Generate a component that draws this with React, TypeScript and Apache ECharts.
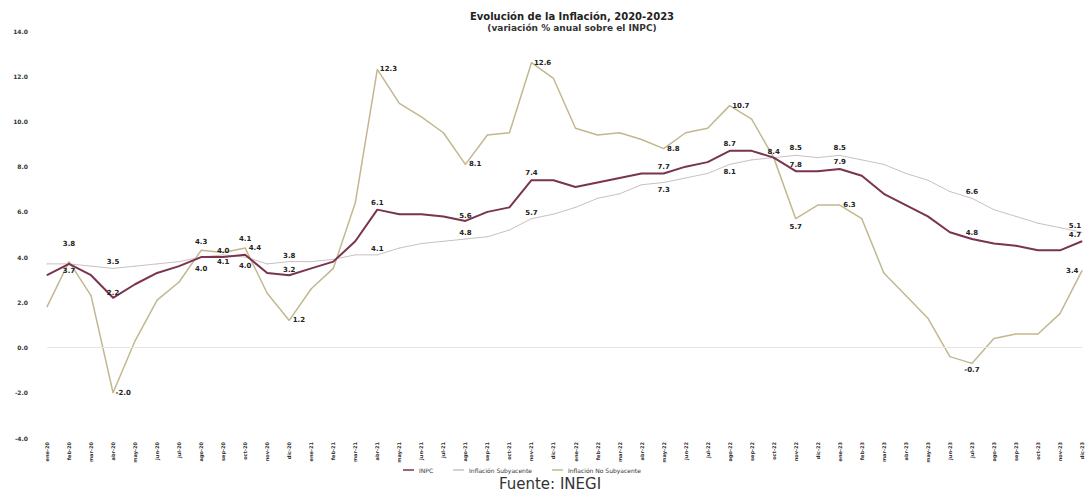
import React, { useEffect, useRef } from "react";
import * as echarts from "echarts";

const categories = [
  "ene-20","feb-20","mar-20","abr-20","may-20","jun-20","jul-20","ago-20","sep-20","oct-20","nov-20","dic-20",
  "ene-21","feb-21","mar-21","abr-21","may-21","jun-21","jul-21","ago-21","sep-21","oct-21","nov-21","dic-21",
  "ene-22","feb-22","mar-22","abr-22","may-22","jun-22","jul-22","ago-22","sep-22","oct-22","nov-22","dic-22",
  "ene-23","feb-23","mar-23","abr-23","may-23","jun-23","jul-23","ago-23","sep-23","oct-23","nov-23","dic-23",
];

const inpc = [
  3.2, 3.7, 3.2, 2.2, 2.8, 3.3, 3.6, 4.0, 4.0, 4.1, 3.3, 3.2,
  3.5, 3.8, 4.7, 6.1, 5.9, 5.9, 5.8, 5.6, 6.0, 6.2, 7.4, 7.4,
  7.1, 7.3, 7.5, 7.7, 7.7, 8.0, 8.2, 8.7, 8.7, 8.4, 7.8, 7.8,
  7.9, 7.6, 6.8, 6.3, 5.8, 5.1, 4.8, 4.6, 4.5, 4.3, 4.3, 4.7,
];

const subyacente = [
  3.7, 3.7, 3.6, 3.5, 3.6, 3.7, 3.8, 4.0, 4.1, 4.0, 3.7, 3.8,
  3.8, 3.9, 4.1, 4.1, 4.4, 4.6, 4.7, 4.8, 4.9, 5.2, 5.7, 5.9,
  6.2, 6.6, 6.8, 7.2, 7.3, 7.5, 7.7, 8.1, 8.3, 8.4, 8.5, 8.4,
  8.5, 8.3, 8.1, 7.7, 7.4, 6.9, 6.6, 6.1, 5.8, 5.5, 5.3, 5.1,
];

const noSubyacente = [
  1.8, 3.8, 2.3, -2.0, 0.3, 2.1, 2.9, 4.3, 4.2, 4.4, 2.4, 1.2,
  2.6, 3.5, 6.4, 12.3, 10.8, 10.2, 9.5, 8.1, 9.4, 9.5, 12.6, 11.9,
  9.7, 9.4, 9.5, 9.2, 8.8, 9.5, 9.7, 10.7, 10.1, 8.4, 5.7, 6.3,
  6.3, 5.7, 3.3, 2.3, 1.3, -0.4, -0.7, 0.4, 0.6, 0.6, 1.5, 3.4,
];

const yTicks = [-4, 14, 2];
const seriesNames = ["INPC", "Inflación Subyacente", "Inflación No Subyacente"];

// which points carry a data label: [position, distance, x-offset]
type LabelSpec = [string, number, number];
const inpcLabelPos: Record<number, LabelSpec> = {
  1: ["bottom", 3, 0], 3: ["top", 1, 0], 8: ["top", 2, 0], 9: ["top", 12, 0], 11: ["top", 1, 0],
  15: ["top", 3, 0], 19: ["top", 1, 0], 22: ["top", 3, 0], 28: ["top", 2, 0], 31: ["top", 3, 0],
  33: ["top", 2, 0], 34: ["top", 2, 0], 36: ["top", 3, 0], 42: ["top", 2, 0], 47: ["top", 2, -7],
};
const subLabelPos: Record<number, LabelSpec> = {
  3: ["top", 2, 0], 7: ["bottom", 8, 0], 8: ["bottom", 3, 0], 9: ["bottom", 5, 0], 11: ["top", 2, 0],
  15: ["top", 2, 0], 19: ["top", 2, 0], 22: ["top", 2, 0], 28: ["bottom", 4, 0], 31: ["bottom", 4, 0],
  34: ["top", 3, 0], 36: ["top", 3, 0], 42: ["top", 2, 0], 47: ["top", 2, -7],
};
const noSubLabelPos: Record<number, LabelSpec> = {
  1: ["top", 14, 0], 3: ["right", 2, 0], 7: ["top", 4, 0], 9: ["right", 3, 0], 11: ["right", 3, 0],
  15: ["right", 2, 0], 19: ["right", 3, 0], 22: ["right", 2, 0], 28: ["right", 3, 0], 31: ["right", 2, 0],
  34: ["bottom", 4, 0], 36: ["right", 3, 0], 42: ["bottom", 3, 0], 47: ["left", 3, 0],
};

const FONT = "DejaVu Sans";

function withLabels(values: number[], pos: Record<number, LabelSpec>) {
  return values.map((v, i) => {
    const s = pos[i];
    return s
      ? { value: v, label: { show: true, position: s[0], distance: s[1], offset: [s[2], 0] } }
      : { value: v };
  });
}

const labelStyle = {
  show: false,
  fontSize: 7,
  fontWeight: "bold",
  color: "#222",
  fontFamily: FONT,
  distance: 2,
  formatter: (p: any) => Number(p.value).toFixed(1),
};

export default function App() {
  const ref = useRef<HTMLDivElement>(null);
  useEffect(() => {
    if (!ref.current) return;
    const chart = echarts.init(ref.current, undefined, { renderer: "svg" });
    chart.setOption({
      animation: false,
      backgroundColor: "#ffffff",
      textStyle: { fontFamily: FONT },
      grid: { left: 47, right: 3, top: 31, bottom: 54, containLabel: false },
      legend: {
        data: seriesNames,
        left: 398,
        top: 462,
        icon: "rect",
        itemWidth: 11,
        itemHeight: 1.5,
        itemGap: 20,
        textStyle: { fontSize: 6, color: "#333", fontFamily: FONT },
      },
      graphic: [
        {
          type: "text",
          x: 572,
          y: 16,
          style: {
            text: "Evolución de la Inflación, 2020-2023",
            fontSize: 10,
            fontWeight: "bold",
            fill: "#222",
            fontFamily: FONT,
            align: "center",
            verticalAlign: "middle",
          },
        },
        {
          type: "text",
          x: 572,
          y: 28,
          style: {
            text: "(variación % anual sobre el INPC)",
            fontSize: 9,
            fontWeight: "bold",
            fill: "#333",
            fontFamily: FONT,
            align: "center",
            verticalAlign: "middle",
          },
        },
        {
          type: "text",
          x: 550,
          y: 484,
          style: {
            text: "Fuente: INEGI",
            fontSize: 15,
            fill: "#333",
            fontFamily: FONT,
            align: "center",
            verticalAlign: "middle",
          },
        },
      ],
      xAxis: {
        type: "category",
        data: categories,
        boundaryGap: false,
        axisLine: { show: false },
        axisTick: { show: false },
        axisLabel: {
          interval: 0,
          rotate: 90,
          fontSize: 5,
          fontWeight: "bold",
          color: "#333",
          margin: 4,
          fontFamily: FONT,
        },
      },
      yAxis: {
        type: "value",
        min: yTicks[0],
        max: yTicks[1],
        interval: yTicks[2],
        splitLine: { show: false },
        axisLine: { show: false },
        axisTick: { show: false },
        axisLabel: {
          fontSize: 6,
          fontWeight: "bold",
          color: "#333",
          margin: 19,
          fontFamily: FONT,
          formatter: (v: number) => v.toFixed(1),
        },
      },
      series: [
        {
          name: seriesNames[2],
          type: "line",
          data: withLabels(noSubyacente, noSubLabelPos),
          symbol: "circle",
          symbolSize: 1,
          showSymbol: true,
          lineStyle: { color: "#c2b88e", width: 1.5 },
          itemStyle: { color: "#c2b88e" },
          label: labelStyle,
          z: 2,
          markLine: {
            silent: true,
            symbol: ["none", "none"],
            label: { show: false },
            lineStyle: { color: "#ebe4dd", type: "solid", width: 1 },
            data: [{ yAxis: 0 }],
          },
        },
        {
          name: seriesNames[1],
          type: "line",
          data: withLabels(subyacente, subLabelPos),
          symbol: "circle",
          symbolSize: 1,
          showSymbol: true,
          lineStyle: { color: "#cbbfc3", width: 1 },
          itemStyle: { color: "#cbbfc3" },
          label: labelStyle,
          z: 3,
        },
        {
          name: seriesNames[0],
          type: "line",
          data: withLabels(inpc, inpcLabelPos),
          symbol: "circle",
          symbolSize: 1,
          showSymbol: true,
          lineStyle: { color: "#7a3350", width: 2 },
          itemStyle: { color: "#7a3350" },
          label: labelStyle,
          z: 4,
        },
      ],
    });
    return () => chart.dispose();
  }, []);
  return <div ref={ref} style={{ width: 1085, height: 492, position: "absolute", left: 0, top: 0 }} />;
}
